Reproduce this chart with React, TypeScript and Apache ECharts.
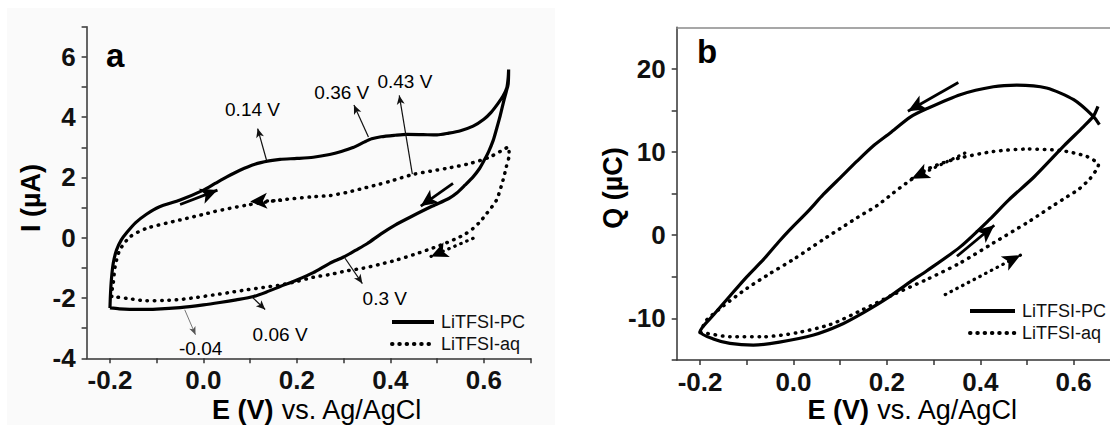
import React, { useEffect, useRef } from "react";
import * as echarts from "echarts";

const FONT = "'Liberation Sans', Arial, Helvetica, sans-serif";

// ---- axes ----
const xTicks = [-0.2, -0.1, 0, 0.1, 0.2, 0.3, 0.4, 0.5, 0.6, 0.7];
const xTickLabels = [-0.2, 0, 0.2, 0.4, 0.6];
const yTicksA = [-4, -3, -2, -1, 0, 1, 2, 3, 4, 5, 6, 7];
const yTickLabelsA = [-4, -2, 0, 2, 4, 6];
const yTicksB = [-15, -10, -5, 0, 5, 10, 15, 20];
const yTickLabelsB = [-10, 0, 10, 20];
const seriesNames = ["LiTFSI-PC", "LiTFSI-aq"];

// ---- panel a: cyclic voltammograms (E [V], I [µA]) ----
const pcA = [
  [-0.2, -2.33], [-0.199, -1.9], [-0.197, -1.4], [-0.193, -0.85], [-0.186, -0.41], [-0.176, -0.08],
  [-0.164, 0.17], [-0.145, 0.5], [-0.122, 0.78], [-0.095, 1.02], [-0.05, 1.25], [0.0, 1.58],
  [0.025, 1.8], [0.05, 2.02], [0.078, 2.24], [0.11, 2.44], [0.14, 2.55], [0.164, 2.6], [0.2, 2.63],
  [0.235, 2.67], [0.27, 2.76], [0.295, 2.86], [0.32, 2.99], [0.345, 3.18], [0.36, 3.28], [0.38, 3.35],
  [0.41, 3.4], [0.435, 3.43], [0.47, 3.42], [0.5, 3.41], [0.525, 3.47], [0.55, 3.55], [0.577, 3.7],
  [0.6, 3.93], [0.615, 4.15], [0.63, 4.45], [0.641, 4.7], [0.649, 4.97], [0.652, 5.3], [0.653, 5.58],
  [0.652, 5.1], [0.648, 4.85], [0.642, 4.5], [0.635, 4.05], [0.627, 3.6], [0.62, 3.23], [0.61, 2.85],
  [0.6, 2.55], [0.59, 2.28], [0.577, 2.02], [0.56, 1.75], [0.542, 1.48], [0.525, 1.3], [0.49, 1.05],
  [0.442, 0.68], [0.41, 0.42], [0.38, 0.13], [0.35, -0.2], [0.325, -0.42], [0.3, -0.64], [0.27, -0.85],
  [0.235, -1.16], [0.2, -1.4], [0.164, -1.62], [0.135, -1.8], [0.107, -1.95], [0.07, -2.06],
  [0.035, -2.15], [0.0, -2.23], [-0.05, -2.32], [-0.1, -2.37], [-0.14, -2.38], [-0.18, -2.36], [-0.2, -2.33],
];
const aqA = [
  [-0.196, -1.95], [-0.195, -1.7], [-0.193, -1.51], [-0.189, -0.96], [-0.179, -0.41], [-0.157, 0.03],
  [-0.122, 0.31], [-0.05, 0.59], [0.007, 0.8], [0.021, 0.86], [0.092, 1.08], [0.164, 1.25], [0.235, 1.36],
  [0.271, 1.4], [0.306, 1.5], [0.342, 1.64], [0.378, 1.78], [0.399, 1.87], [0.449, 2.1], [0.52, 2.3],
  [0.57, 2.46], [0.613, 2.68], [0.653, 3.01], [0.654, 2.74], [0.648, 2.35], [0.641, 1.91], [0.627, 1.25],
  [0.605, 0.78], [0.59, 0.5], [0.577, 0.31], [0.56, 0.12], [0.542, -0.02], [0.515, -0.2], [0.484, -0.38],
  [0.45, -0.56], [0.413, -0.74], [0.378, -0.88], [0.342, -1.01], [0.306, -1.1], [0.271, -1.22],
  [0.235, -1.31], [0.2, -1.45], [0.164, -1.57], [0.128, -1.65], [0.092, -1.73], [0.055, -1.82],
  [0.021, -1.9], [-0.015, -1.98], [-0.05, -2.05], [-0.085, -2.08], [-0.122, -2.09], [-0.16, -2.02], [-0.196, -1.95],
];

// ---- panel b: integrated charge (E [V], Q [µC]) ----
const pcB = [
  [0.655, 13.3], [0.642, 14.3], [0.6, 16.3], [0.542, 17.7], [0.478, 18.05], [0.428, 17.85], [0.357, 16.9],
  [0.285, 15.2], [0.25, 14.2], [0.207, 12.3], [0.17, 10.7], [0.136, 8.9], [0.1, 6.9], [0.064, 4.9],
  [0.03, 2.8], [-0.007, 0.7], [-0.03, -0.7], [-0.064, -2.9], [-0.1, -5.0], [-0.136, -7.3], [-0.17, -9.5],
  [-0.2, -11.6], [-0.17, -12.5], [-0.136, -13.0], [-0.086, -13.2], [-0.03, -12.85], [0.043, -12.0],
  [0.1, -10.8], [0.15, -9.3], [0.2, -7.6], [0.25, -5.6], [0.285, -4.3], [0.357, -1.4], [0.42, 1.9], [0.46, 4.2],
  [0.515, 7.0], [0.58, 10.8], [0.62, 13.0], [0.642, 14.3], [0.652, 15.5],
];
const aqB = [
  [-0.2, -11.7], [-0.186, -10.2], [-0.15, -8.5], [-0.1, -6.4], [-0.05, -4.6], [0.0, -2.9], [0.064, -0.5],
  [0.1, 0.8], [0.136, 2.1], [0.18, 3.6], [0.214, 5.1], [0.25, 6.6], [0.285, 7.9], [0.32, 8.7], [0.357, 9.3],
  [0.428, 10.07], [0.499, 10.36], [0.571, 10.19], [0.628, 9.47], [0.653, 8.47], [0.65, 8.0], [0.635, 6.8],
  [0.61, 5.5], [0.585, 4.6], [0.557, 3.6], [0.53, 2.6], [0.5, 1.5], [0.428, -0.93], [0.357, -3.33],
  [0.285, -5.33], [0.214, -7.13], [0.15, -8.9], [0.079, -10.73], [0.007, -11.73], [-0.064, -12.2],
  [-0.136, -12.2], [-0.186, -11.8], [-0.2, -11.7],
];

// ---- scan-direction arrows: [start, end] in data units ----
const arrowsASolid = [[[-0.05, 1.1], [0.03, 1.58]], [[0.534, 1.8], [0.465, 1.05]]];
const arrowsADotted = [[[0.165, 1.24], [0.1, 1.2]], [[0.577, -0.02], [0.487, -0.62]]];
const arrowsBSolid = [[[0.353, 18.36], [0.245, 14.9]], [[0.35, -2.53], [0.43, 1.2]]];
const arrowsBDotted = [[[0.367, 9.88], [0.253, 6.8]], [[0.325, -7.13], [0.486, -2.4]]];

// ---- peak call-outs (panel a) ----
const calloutText = ["0.14 V", "0.36 V", "0.43 V", "0.3 V", "0.06 V", "-0.04"];
const calloutFrom = [[0.135, 2.57], [0.353, 3.34], [0.447, 2.11], [0.303, -0.68], [0.103, -1.95], [-0.04, -2.39]];
const calloutTo = [[0.116, 3.62], [0.322, 4.4], [0.419, 4.72], [0.34, -1.52], [0.132, -2.38], [-0.017, -3.22]];
const calloutAt = [[0.105, 4.25], [0.296, 4.83], [0.431, 5.17], [0.388, -2.01], [0.164, -3.22], [-0.006, -3.66]];

function arrowSeries(xi: number, yi: number, arrows: number[][][], dotted: boolean, width: number, size: number[], color = "#000") {
  return {
    type: "line",
    xAxisIndex: xi,
    yAxisIndex: yi,
    data: [],
    silent: true,
    markLine: {
      silent: true,
      animation: false,
      symbol: ["none", "arrow"],
      symbolSize: size,
      label: { show: false },
      emphasis: { disabled: true },
      lineStyle: {
        color,
        width,
        type: dotted ? [0.5, 6] : "solid",
        cap: dotted ? "round" : "butt",
        opacity: 1,
      },
      data: arrows.map(([a, b]) => [{ coord: a }, { coord: b }]),
    },
  };
}

function makeXAxis(gridIndex: number) {
  return {
    type: "value",
    gridIndex,
    min: -0.25,
    max: 0.7,
    splitLine: { show: false },
    axisLine: { show: true, onZero: false, lineStyle: { color: "#333", width: 1.5 } },
    axisTick: { show: true, length: 5, customValues: xTicks, lineStyle: { color: "#333", width: 1.5 } },
    axisLabel: {
      customValues: xTickLabels,
      formatter: (v: number) => v.toFixed(1),
      fontSize: 26,
      fontWeight: "bold",
      fontFamily: FONT,
      color: "#111",
      margin: 9,
    },
  };
}

function makeYAxis(gridIndex: number, min: number, max: number, ticks: number[], labels: number[]) {
  return {
    type: "value",
    gridIndex,
    min,
    max,
    splitLine: { show: false },
    axisLine: { show: true, onZero: false, lineStyle: { color: "#333", width: 1.5 } },
    axisTick: { show: true, length: 5, customValues: ticks, lineStyle: { color: "#333", width: 1.5 } },
    axisLabel: {
      customValues: labels,
      fontSize: 26,
      fontWeight: "bold",
      fontFamily: FONT,
      color: "#111",
      margin: 11,
    },
  };
}

const solidStyle = { color: "#000", width: 3.2 };
const dottedStyle = { color: "#000", width: 3.5, type: [0.5, 6.8], cap: "round" };

function legend(left: number, top: number, w: number) {
  return {
    left,
    top,
    orient: "vertical",
    itemWidth: w,
    itemHeight: 14,
    itemGap: 4,
    selectedMode: false,
    data: seriesNames,
    itemStyle: { opacity: 0, borderWidth: 0 },
    lineStyle: { width: 4 },
    textStyle: { fontSize: 18, fontFamily: FONT, color: "#111", padding: [0, 0, 0, 2] },
    padding: 0,
  };
}

export default function App() {
  const ref = useRef<HTMLDivElement>(null);
  useEffect(() => {
    if (!ref.current) return;
    const chart = echarts.init(ref.current, undefined, { renderer: "svg" });
    const option = {
      animation: false,
      backgroundColor: "#fff",
      grid: [
        { left: 86.6, top: 26.7, width: 444, height: 331.6 },
        { left: 676.7, top: 27.3, width: 443.7, height: 332.7 },
      ],
      xAxis: [
        makeXAxis(0),
        makeXAxis(1),
        {
          type: "value",
          gridIndex: 1,
          position: "top",
          min: -0.25,
          max: 0.7,
          splitLine: { show: false },
          axisLine: { show: true, onZero: false, lineStyle: { color: "#8a8a8a", width: 1.5 } },
          axisTick: { show: false },
          axisLabel: { show: false },
        },
      ],
      yAxis: [makeYAxis(0, -4, 7, yTicksA, yTickLabelsA), makeYAxis(1, -15, 25, yTicksB, yTickLabelsB)],
      legend: [legend(390, 313, 42), legend(968, 302, 45)],
      graphic: [
        { type: "rect", z: -10, shape: { x: 7, y: 8, width: 548, height: 417 }, style: { fill: "#fafafa" }, silent: true },
        { type: "text", x: 106, y: 55.5, style: { text: "a", fontSize: 33, fontWeight: "bold", fontFamily: FONT, fill: "#000", verticalAlign: "middle" } },
        { type: "text", x: 697, y: 51.5, style: { text: "b", fontSize: 33, fontWeight: "bold", fontFamily: FONT, fill: "#000", verticalAlign: "middle" } },
        {
          type: "text", x: 317, y: 410,
          style: { text: "{b|E (V)} vs. Ag/AgCl", fontSize: 27, fontFamily: FONT, fill: "#000", align: "center", verticalAlign: "middle",
            rich: { b: { fontSize: 27, fontFamily: FONT, fontWeight: "bold", fill: "#000" } } },
        },
        {
          type: "text", x: 912.6, y: 410,
          style: { text: "{b|E (V)} vs. Ag/AgCl", fontSize: 27, fontFamily: FONT, fill: "#000", align: "center", verticalAlign: "middle",
            rich: { b: { fontSize: 27, fontFamily: FONT, fontWeight: "bold", fill: "#000" } } },
        },
        { type: "text", x: 31, y: 198, rotation: Math.PI / 2,
          style: { text: "I (µA)", fontSize: 27, fontWeight: "bold", fontFamily: FONT, fill: "#000", align: "center", verticalAlign: "middle" } },
        { type: "text", x: 613, y: 188, rotation: Math.PI / 2,
          style: { text: "Q (µC)", fontSize: 27, fontWeight: "bold", fontFamily: FONT, fill: "#000", align: "center", verticalAlign: "middle" } },
      ],
      series: [
        { name: seriesNames[0], type: "line", xAxisIndex: 0, yAxisIndex: 0, data: pcA, showSymbol: false, symbol: "none", smooth: 0.25, clip: false, lineStyle: solidStyle, itemStyle: { color: "#000" } },
        { name: seriesNames[1], type: "line", xAxisIndex: 0, yAxisIndex: 0, data: aqA, showSymbol: false, symbol: "none", smooth: 0.25, clip: false, lineStyle: dottedStyle, itemStyle: { color: "#000" } },
        { name: seriesNames[0], type: "line", xAxisIndex: 1, yAxisIndex: 1, data: pcB, showSymbol: false, symbol: "none", smooth: 0.25, clip: false, lineStyle: solidStyle, itemStyle: { color: "#000" } },
        { name: seriesNames[1], type: "line", xAxisIndex: 1, yAxisIndex: 1, data: aqB, showSymbol: false, symbol: "none", smooth: 0.25, clip: false, lineStyle: dottedStyle, itemStyle: { color: "#000" } },
        arrowSeries(0, 0, arrowsASolid, false, 2.8, [12, 17]),
        arrowSeries(0, 0, arrowsADotted, true, 3.2, [12, 17]),
        arrowSeries(1, 1, arrowsBSolid, false, 2.8, [12, 18]),
        arrowSeries(1, 1, arrowsBDotted, true, 3.2, [12, 18]),
        arrowSeries(0, 0, calloutFrom.slice(0, 5).map((f, i) => [f, calloutTo[i]]), false, 1.2, [6, 9], "#111"),
        arrowSeries(0, 0, [[calloutFrom[5], calloutTo[5]]], false, 0.8, [5, 8], "#555"),
        {
          type: "scatter",
          xAxisIndex: 0,
          yAxisIndex: 0,
          silent: true,
          symbolSize: 0.01,
          itemStyle: { color: "#000", opacity: 1 },
          data: calloutAt.map((p, i) => ({ value: p, name: calloutText[i] })),
          label: { show: true, position: "inside", formatter: "{b}", fontSize: 19, fontFamily: FONT, color: "#000", opacity: 1 },
          labelLayout: { hideOverlap: false },
        },
      ],
    };
    chart.setOption(option as any);
    return () => chart.dispose();
  }, []);
  return (
    <div style={{ position: "fixed", left: 0, top: 0, width: 1110, height: 425, overflow: "hidden", background: "#fff" }}>
      <div ref={ref} style={{ width: 1130, height: 425 }} />
    </div>
  );
}
